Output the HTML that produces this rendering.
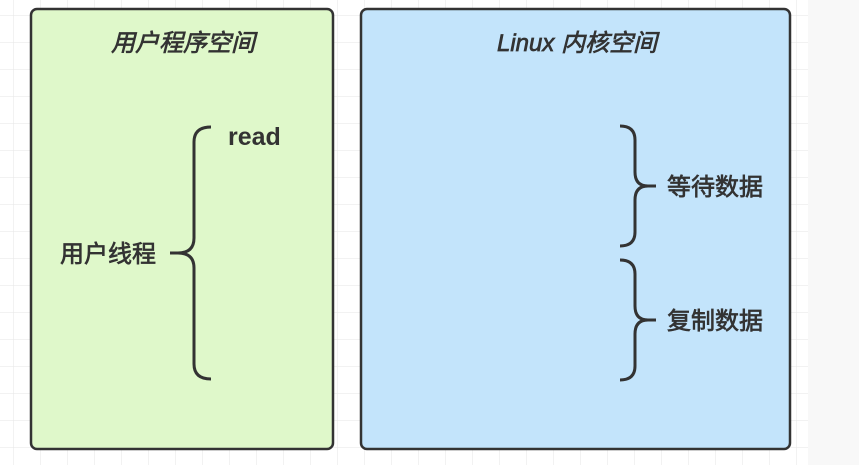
<!DOCTYPE html>
<html><head><meta charset="utf-8"><style>
html,body{margin:0;padding:0;width:859px;height:465px;overflow:hidden;background:#fff}
svg{display:block}
text{font-family:"Liberation Sans","Noto Sans CJK SC",sans-serif;fill:#333}
.m{stroke:#333;stroke-width:0.7}
</style></head><body>
<svg width="859" height="465" viewBox="0 0 859 465" xmlns="http://www.w3.org/2000/svg">
<defs>
<pattern id="g" width="27" height="27" patternUnits="userSpaceOnUse" x="13" y="15">
<path d="M0 0H27M0 0V27" stroke="#e6e6e6" stroke-width="1" fill="none"/>
</pattern>
</defs>
<rect x="0" y="0" width="808" height="465" fill="url(#g)"/>
<rect x="808" y="0" width="51" height="465" fill="#f8f8f8"/>
<rect x="31" y="9" width="302" height="440" rx="6" fill="#dff8ca" stroke="#333" stroke-width="2.5"/>
<rect x="361" y="9" width="429" height="440" rx="6" fill="#c3e4fb" stroke="#333" stroke-width="2.5"/>
<text class="m" x="183" y="51" font-size="24" font-style="italic" text-anchor="middle">用户程序空间</text>
<text class="m" x="577" y="51" font-size="24" font-style="italic" text-anchor="middle">Linux 内核空间</text>
<text x="228" y="145" font-size="25" font-weight="bold">read</text>
<text class="m" x="60" y="262" font-size="24">用户线程</text>
<text class="m" x="667" y="195" font-size="24">等待数据</text>
<text class="m" x="667" y="329" font-size="24">复制数据</text>
<g fill="none" stroke="#333" stroke-width="3">
<path d="M211 127 Q194 127 194 142 V238 Q194 253 178 253 H170 M178 253 Q194 253 194 268 V364 Q194 379 211 379"/>
<path d="M620 126 Q635 126 635 140 V172 Q635 186 648 186 H656 M648 186 Q635 186 635 200 V232 Q635 246 620 246"/>
<path d="M620 260 Q635 260 635 274 V306 Q635 320 648 320 H656 M648 320 Q635 320 635 334 V366 Q635 380 620 380"/>
</g>
</svg>
</body></html>
